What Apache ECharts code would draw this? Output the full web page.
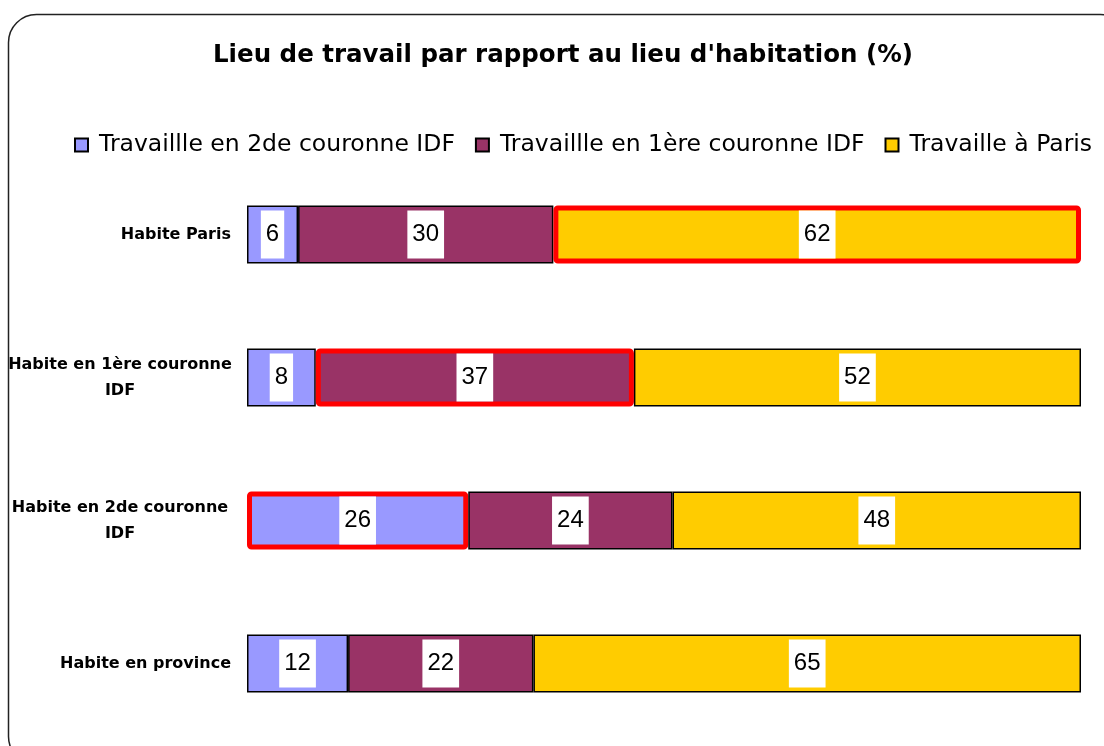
<!DOCTYPE html>
<html>
<head>
<meta charset="utf-8">
<script src="https://cdn.jsdelivr.net/npm/echarts@6/dist/echarts.min.js"></script>
<style>html,body{margin:0;padding:0;background:#fff;}#c{width:1104px;height:746px;}</style>
</head>
<body>
<div id="c"></div>
<script>
const title = "Lieu de travail par rapport au lieu d'habitation (%)";
const categories = ["Habite Paris", "Habite en 1ère couronne\nIDF", "Habite en 2de couronne\nIDF", "Habite en province"];
const seriesNames = ["Travaillle en 2de couronne IDF", "Travaillle en 1ère couronne IDF", "Travaille à Paris"];
const s2deCouronne = [6, 8, 26, 12];
const s1ereCouronne = [30, 37, 24, 22];
const sParis = [62, 52, 48, 65];
// which series index is highlighted for each category (red frame)
const highlighted = [2, 1, 0, null];
const colors = ["#9999FF", "#993366", "#FFCC00"];

const raw = [s2deCouronne, s1ereCouronne, sParis];
const totals = categories.map((_, i) => raw.reduce((s, arr) => s + arr[i], 0));

const chart = echarts.init(document.getElementById('c'), null, {renderer: 'canvas'});

const series = raw.map((arr, si) => ({
  name: seriesNames[si],
  type: 'bar',
  stack: 'total',
  barWidth: 58,
  z: 2,
  itemStyle: {color: colors[si], borderColor: '#000', borderWidth: 1.5},
  label: {
    show: true,
    position: 'inside',
    formatter: p => String(arr[p.dataIndex]),
    color: '#000',
    fontFamily: 'Liberation Sans, Arial, sans-serif',
    fontSize: 24,
    lineHeight: 24,
    backgroundColor: '#fff',
    padding: [12, 5, 12, 5]
  },
  data: arr.map((v, i) => {
    const d = {value: v / totals[i] * 100};
    if (highlighted[i] === si) {
      d.itemStyle = {borderColor: '#FF0000', borderWidth: 5, borderRadius: 2};
    }
    return d;
  })
}));

chart.setOption({
  animation: false,
  backgroundColor: '#fff',
  title: {
    text: title,
    left: 208,
    top: 38,
    textStyle: {fontFamily: 'DejaVu Sans', fontWeight: 'bold', fontSize: 24.5, color: '#000'}
  },
  legend: {
    left: 69,
    top: 128,
    itemWidth: 13,
    itemHeight: 13,
    itemGap: 20,
    icon: 'rect',
    textStyle: {fontFamily: 'DejaVu Sans', fontSize: 23.5, color: '#000', padding: [0, 0, 0, 6]},
    data: seriesNames
  },
  grid: {left: 247, right: 23, top: 163, height: 572},
  xAxis: {type: 'value', min: 0, max: 100, show: false},
  yAxis: {
    type: 'category',
    inverse: true,
    data: categories,
    axisLine: {show: false},
    axisTick: {show: false},
    axisLabel: {
      margin: 16,
      fontFamily: 'DejaVu Sans',
      fontWeight: 'bold',
      fontSize: 16,
      color: '#000',
      lineHeight: 26,
      formatter: v => v.indexOf('\n') >= 0 ? v.split('\n').map(l => '{c|' + l + '}').join('\n') : v,
      rich: {
        c: {width: 222, align: 'center', fontFamily: 'DejaVu Sans', fontWeight: 'bold', fontSize: 16, color: '#000', lineHeight: 26}
      }
    }
  },
  graphic: [{
    type: 'rect',
    silent: true,
    z: 100,
    shape: {x: 8.5, y: 14.5, width: 1120, height: 750, r: 28},
    style: {fill: 'none', stroke: '#222', lineWidth: 1.5}
  }],
  series: series
});
</script>
</body>
</html>
